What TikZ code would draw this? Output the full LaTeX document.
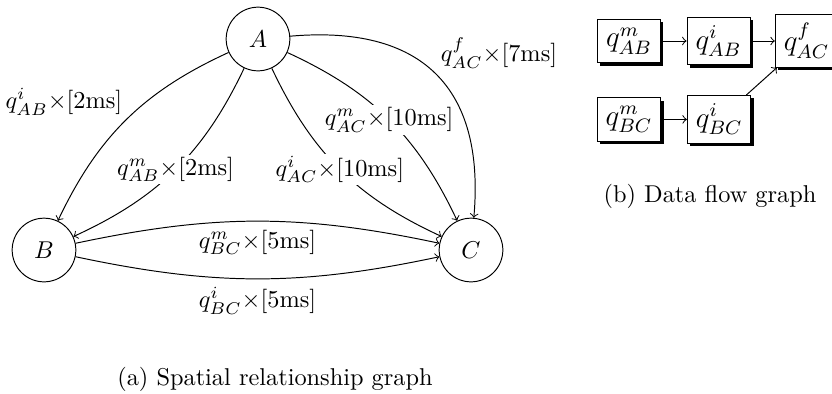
\documentclass[tikz,border=0pt]{standalone}
\usepackage{amsmath}
\usepackage{tikz}
\usetikzlibrary{arrows.meta, positioning, shadows}
\tikzset{
  place/.style={circle, draw=black, minimum size=0.92cm, inner sep=0pt,
    font=\normalsize, line width=0.4pt},
  flowbox/.style={rectangle, draw=black, fill=white, font=\large,
    inner sep=3.5pt, line width=0.4pt,
    drop shadow={shadow xshift=1.2pt, shadow yshift=-1.2pt, fill=black, opacity=1}},
  arc/.style={->, line width=0.4pt},
  onarc/.style={fill=white, inner sep=1pt, font=\normalsize},
  caption/.style={font=\normalsize}
}

\begin{document}
\begin{tikzpicture}[x=0.411pt, y=-0.411pt, >=to]
  \useasboundingbox (0,0) rectangle (832,393);

  % Spatial relationship graph
  \node[place] (A) at (258,39) {$A$};
  \node[place] (B) at (44,250) {$B$};
  \node[place] (C) at (471,250) {$C$};

  % A to B
  \draw[arc] (A) to[bend right=20] node[pos=0.5, above left, inner sep=1.5pt] {$q^i_{AB}$$\times$[2ms]} (B);
  \draw[arc] (A) to[bend left=20] node[onarc] {$q^m_{AB}$$\times$[2ms]} (B);

  % A to C
  \draw[arc] (A) to[bend right=20] node[onarc] {$q^i_{AC}$$\times$[10ms]} (C);
  \draw[arc] (A) to[bend left=20] node[onarc] {$q^m_{AC}$$\times$[10ms]} (C);
  \draw[arc] (A) to[out=5, in=85, looseness=1.3] node[pos=0.5, above right, inner sep=2pt] {$q^f_{AC}$$\times$[7ms]} (C);

  % B to C
  \draw[arc] (B) to[bend left=12] node[below] {$q^m_{BC}$$\times$[5ms]} (C);
  \draw[arc] (B) to[bend right=12] node[below] {$q^i_{BC}$$\times$[5ms]} (C);

  \node[caption] (capa) at (275,379) {(a) Spatial relationship graph};

  % Data flow graph
  \node[flowbox] (qmab) at (629,41) {$q^m_{AB}$};
  \node[flowbox, right=10.5pt of qmab] (qiab) {$q^i_{AB}$};
  \node[flowbox, right=10pt of qiab] (qfac) {$q^f_{AC}$};
  \node[flowbox, below=14pt of qmab] (qmbc) {$q^m_{BC}$};
  \node[flowbox, right=10.5pt of qmbc] (qibc) {$q^i_{BC}$};

  \draw[arc] (qmab) -- (qiab);
  \draw[arc] (qiab) -- (qfac);
  \draw[arc] (qmbc) -- (qibc);
  \draw[arc] (qibc) -- (qfac);

  \node[caption] (capb) at (710,196) {(b) Data flow graph};
\end{tikzpicture}
\end{document}
